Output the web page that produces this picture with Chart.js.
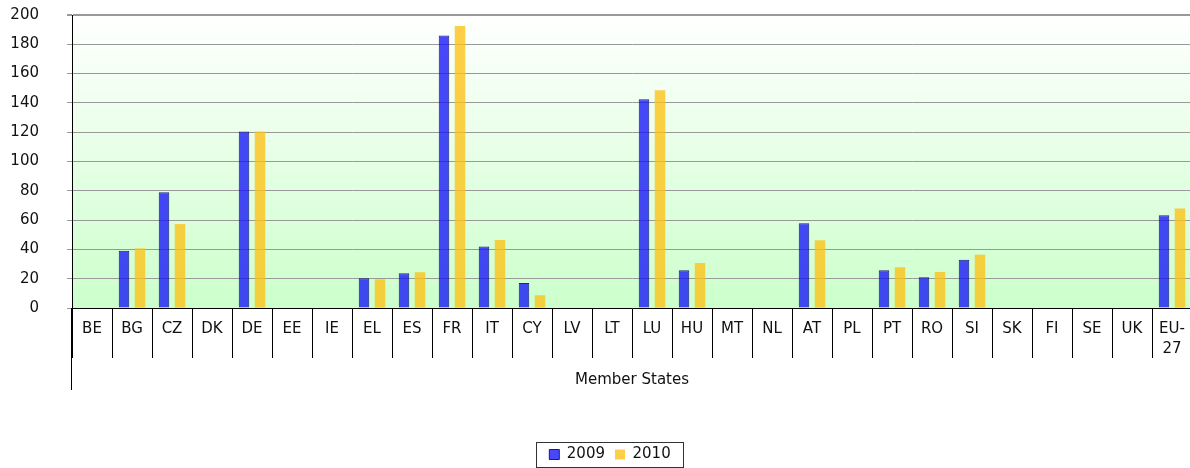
<!DOCTYPE html>
<html>
<head>
<meta charset="utf-8">
<script src="https://cdn.jsdelivr.net/npm/chart.js@4.4.1/dist/chart.umd.min.js"></script>
<style>
  body { margin: 0; overflow: hidden; background: #fff; }
</style>
</head>
<body>
<canvas id="memberChart" width="1192" height="468"></canvas>
<script>
var states = ['BE', 'BG', 'CZ', 'DK', 'DE', 'EE', 'IE', 'EL', 'ES', 'FR', 'IT', 'CY', 'LV', 'LT',
    'LU', 'HU', 'MT', 'NL', 'AT', 'PL', 'PT', 'RO', 'SI', 'SK', 'FI', 'SE', 'UK', 'EU-27'];
var values2009 = [null, 39, 79, null, 120.5, null, null, 20.3, 23.7, 186, 42, 17, null, null,
    142.5, 25.7, null, null, 57.8, null, 25.7, 21, 33, null, null, null, null, 63.3];
var values2010 = [null, 40.7, 57.3, null, 120.5, null, null, 19.6, 24.4, 192.5, 46.4, 8.7, null, null,
    148.6, 30.7, null, null, 46.2, null, 27.8, 24.6, 36.4, null, null, null, null, 68];
var yMin = 0, yMax = 200, yStep = 20;

// long labels wrap like the original (EU- / 27)
var tickLabels = states.map(function (s) { return s === 'EU-27' ? ['EU-', '27'] : s; });

Chart.defaults.font.family = "'DejaVu Sans', Verdana, sans-serif";
Chart.defaults.color = '#111';

var backdrop = {
    id: 'backdrop',
    beforeDraw: function (chart) {
        var a = chart.chartArea, c = chart.ctx;
        var g = c.createLinearGradient(0, a.top, 0, a.bottom);
        g.addColorStop(0, '#ffffff');
        g.addColorStop(1, '#ccffcc');
        c.save();
        c.fillStyle = g;
        c.fillRect(a.left, a.top, a.right - a.left, a.bottom - a.top);
        c.restore();
    }
};

var extras = {
    id: 'extras',
    afterLayout: function (chart) {
        // legend sits a bit right of the canvas centre in the original
        var lg = chart.legend;
        lg.left += 14;
        lg.right += 14;
    },
    afterDraw: function (chart) {
        var c = chart.ctx, y = chart.scales.y, x = chart.scales.x;
        c.save();
        // y axis line runs down through the category table
        c.strokeStyle = '#000';
        c.lineWidth = 1;
        c.beginPath();
        c.moveTo(Math.round(y.right) - 0.5, x.top);
        c.lineTo(Math.round(y.right) - 0.5, x.top + 82);
        c.stroke();
        // box round the legend
        var hb = chart.legend.legendHitBoxes;
        if (hb && hb.length) {
            var l = Math.min.apply(null, hb.map(function (h) { return h.left; }));
            var r = Math.max.apply(null, hb.map(function (h) { return h.left + h.width; }));
            var mid = hb[0].top + hb[0].height / 2;
            c.strokeStyle = '#333';
            c.strokeRect(Math.round(l - 13) + 0.5, Math.round(mid - 13) + 0.5, Math.round(r - l + 26), 25);
        }
        c.restore();
    }
};

var ctx = document.getElementById('memberChart').getContext('2d');
var memberChart = new Chart(ctx, {
    type: 'bar',
    data: {
        labels: tickLabels,
        datasets: [{
            label: '2009',
            data: values2009,
            backgroundColor: 'rgba(21,20,248,0.78)',
            borderColor: 'rgba(0,0,110,0.85)',
            borderWidth: 1,
            categoryPercentage: 0.8,
            barPercentage: 0.66
        }, {
            label: '2010',
            data: values2010,
            backgroundColor: 'rgba(253,194,20,0.78)',
            borderWidth: 0,
            categoryPercentage: 0.8,
            barPercentage: 0.66
        }]
    },
    options: {
        responsive: false,
        animation: false,
        devicePixelRatio: 1,
        layout: {
            padding: { left: 0, top: 15, right: 0, bottom: -4 }
        },
        plugins: {
            tooltip: { enabled: false },
            legend: {
                display: true,
                position: 'bottom',
                labels: {
                    boxWidth: 10,
                    boxHeight: 10,
                    padding: 10,
                    color: '#111',
                    font: { size: 15 }
                }
            }
        },
        scales: {
            x: {
                afterFit: function (scale) { scale.height = 129; },
                grid: {
                    offset: true,
                    drawOnChartArea: false,
                    tickLength: 50,
                    color: '#000'
                },
                border: { color: '#000', width: 1 },
                ticks: {
                    autoSkip: false,
                    maxRotation: 0,
                    padding: -39,
                    color: '#111',
                    font: { size: 15, lineHeight: 1.33 }
                },
                title: {
                    display: true,
                    text: 'Member States',
                    color: '#111',
                    font: { size: 15 },
                    padding: { top: 0, bottom: 48 }
                }
            },
            y: {
                min: yMin,
                max: yMax,
                afterFit: function (scale) {
                    scale.width = 72;
                    scale.paddingTop = 0;
                    scale.paddingBottom = 0;
                },
                grid: {
                    color: '#999',
                    tickLength: 5,
                    lineWidth: function (c) { return c.tick && c.tick.value === yMax ? 2 : 1; }
                },
                border: { color: '#000', width: 1 },
                ticks: {
                    stepSize: yStep,
                    padding: 28,
                    color: '#111',
                    font: { size: 15 }
                }
            }
        }
    },
    plugins: [backdrop, extras]
});
</script>
</body>
</html>
